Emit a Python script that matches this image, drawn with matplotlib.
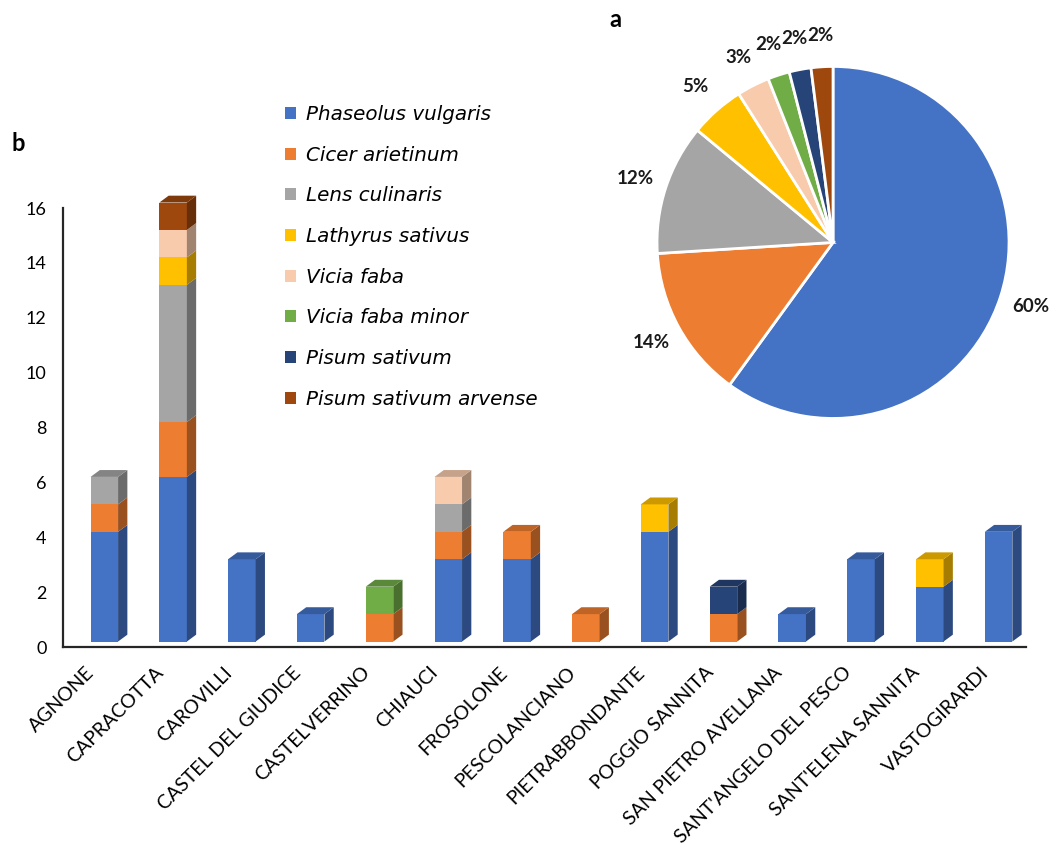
import numpy as np
import matplotlib
matplotlib.use("Agg")
import matplotlib.pyplot as plt
import matplotlib.transforms as mtransforms
from matplotlib.patches import Polygon, Patch
from matplotlib.colors import to_rgb

plt.rcParams["font.family"] = ["Lato", "DejaVu Sans"]

# ------------------------------------------------------------
# Data
# ------------------------------------------------------------
towns = [
    "AGNONE", "CAPRACOTTA", "CAROVILLI", "CASTEL DEL GIUDICE",
    "CASTELVERRINO", "CHIAUCI", "FROSOLONE", "PESCOLANCIANO",
    "PIETRABBONDANTE", "POGGIO SANNITA", "SAN PIETRO AVELLANA",
    "SANT'ANGELO DEL PESCO", "SANT'ELENA SANNITA", "VASTOGIRARDI",
]

species = [
    "Phaseolus vulgaris", "Cicer arietinum", "Lens culinaris",
    "Lathyrus sativus", "Vicia faba", "Vicia faba minor",
    "Pisum sativum", "Pisum sativum arvense",
]

phaseolus_vulgaris    = [4, 6, 3, 1, 0, 3, 3, 0, 4, 0, 1, 3, 2, 4]
cicer_arietinum       = [1, 2, 0, 0, 1, 1, 1, 1, 0, 1, 0, 0, 0, 0]
lens_culinaris        = [1, 5, 0, 0, 0, 1, 0, 0, 0, 0, 0, 0, 0, 0]
lathyrus_sativus      = [0, 1, 0, 0, 0, 0, 0, 0, 1, 0, 0, 0, 1, 0]
vicia_faba            = [0, 1, 0, 0, 0, 1, 0, 0, 0, 0, 0, 0, 0, 0]
vicia_faba_minor      = [0, 0, 0, 0, 1, 0, 0, 0, 0, 0, 0, 0, 0, 0]
pisum_sativum         = [0, 0, 0, 0, 0, 0, 0, 0, 0, 1, 0, 0, 0, 0]
pisum_sativum_arvense = [0, 1, 0, 0, 0, 0, 0, 0, 0, 0, 0, 0, 0, 0]

# pie shares (percent), as printed on the chart
pie_share = [60, 14, 12, 5, 3, 2, 2, 2]

colors = ["#4472C4", "#ED7D31", "#A5A5A5", "#FFC000",
          "#F8CBAD", "#70AD47", "#264478", "#9E480E"]

series = [phaseolus_vulgaris, cicer_arietinum, lens_culinaris, lathyrus_sativus,
          vicia_faba, vicia_faba_minor, pisum_sativum, pisum_sativum_arvense]


def shade(c, f):
    r, g, b = to_rgb(c)
    return (r * f, g * f, b * f)


# ------------------------------------------------------------
# Figure
# ------------------------------------------------------------
fig = plt.figure(figsize=(10.56, 8.47), dpi=100)

# --- b: stacked pseudo-3D bars
ax = fig.add_axes([0.0597, 0.2361, 0.912, 0.5183])
x = np.arange(len(towns))

lift = 0.2      # front face sits a little above the floor
w = 0.4         # front face width
dx = 0.135      # depth, x
dy = 0.25       # depth, y

bottoms = np.zeros(len(towns))
tops = np.zeros(len(towns))
for vals in series:
    tops = tops + np.array(vals)

for vals, col in zip(series, colors):
    vals = np.array(vals, dtype=float)
    ax.bar(x + 0.1, vals, width=w, bottom=bottoms + lift, color=col,
           linewidth=0, clip_on=False, zorder=3)
    for i, v in enumerate(vals):
        if v <= 0:
            continue
        x1 = x[i] + 0.1 + w / 2
        y0 = bottoms[i] + lift
        y1 = y0 + v
        side = Polygon([(x1, y0), (x1 + dx, y0 + dy), (x1 + dx, y1 + dy), (x1, y1)],
                       closed=True, facecolor=shade(col, 0.65), linewidth=0,
                       clip_on=False, zorder=3)
        ax.add_patch(side)
        if bottoms[i] + v == tops[i]:
            x0 = x[i] + 0.1 - w / 2
            top = Polygon([(x0, y1), (x1, y1), (x1 + dx, y1 + dy), (x0 + dx, y1 + dy)],
                          closed=True, facecolor=shade(col, 0.8), linewidth=0,
                          clip_on=False, zorder=3)
            ax.add_patch(top)
    bottoms = bottoms + vals

ax.set_xlim(-0.5, len(towns) - 0.5)
ax.set_ylim(0, 16)
ax.set_yticks(range(0, 17, 2))
ax.set_xticks(x)
ax.set_xticklabels(towns, rotation=45, ha="right", va="top", fontsize=14)
shift = mtransforms.ScaledTranslation(6.5 / 100, 0, fig.dpi_scale_trans)
for lab in ax.get_xticklabels():
    lab.set_transform(lab.get_transform() + shift)
ax.tick_params(axis="both", length=0)
ax.tick_params(axis="y", labelsize=13, pad=12)
ax.tick_params(axis="x", pad=12)
for s in ["top", "right"]:
    ax.spines[s].set_visible(False)
for s in ["left", "bottom"]:
    ax.spines[s].set_linewidth(1.6)
    ax.spines[s].set_color("#262626")

handles = [Patch(facecolor=c, edgecolor="none") for c in colors]
fig.legend(handles, species, loc="upper left", bbox_to_anchor=(0.270, 0.876),
           frameon=False,
           prop={"family": "DejaVu Sans", "style": "italic", "size": 14.3},
           handlelength=0.55, handleheight=0.55, handletextpad=0.5,
           labelspacing=1.09, borderpad=0, borderaxespad=0)

# --- a: pie
axp = fig.add_axes([0.5805, 0.454, 0.4167, 0.5195])
axp.pie(pie_share, colors=colors, startangle=90, counterclock=False,
        autopct="%.0f%%", pctdistance=1.18,
        wedgeprops={"edgecolor": "white", "linewidth": 2},
        textprops={"fontsize": 13.5, "fontweight": "bold", "color": "#1a1a1a"})
axp.set_aspect("equal")

fig.text(0.577, 0.977, "a", fontsize=17, fontweight="bold", va="center", ha="left")
fig.text(0.011, 0.831, "b", fontsize=17, fontweight="bold", va="center", ha="left")

fig.savefig("out.png", dpi=100)
